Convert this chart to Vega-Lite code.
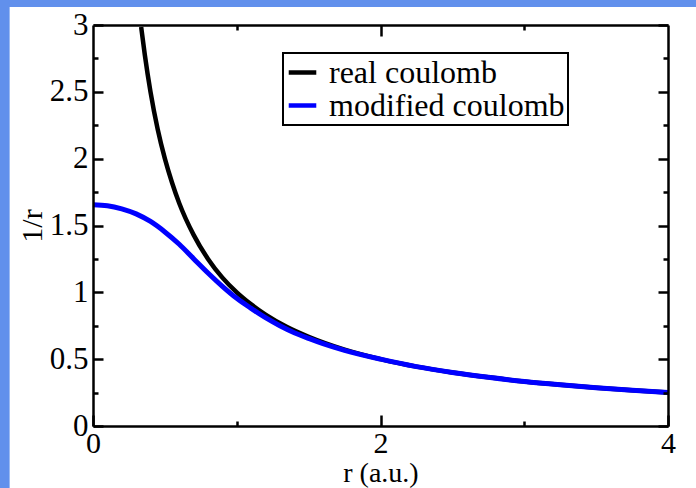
{
  "$schema": "https://vega.github.io/schema/vega-lite/v6.json",
  "width": 575,
  "height": 401,
  "autosize": {"type": "none"},
  "padding": {"left": 93, "top": 25, "right": 28, "bottom": 62},
  "background": "#6190ec",
  "datasets": {
    "panel": [{"x0": -0.58, "x1": 4.5, "y0": -0.6, "y1": 3.135}],
    "real": [
      {"r": 0.335, "v": 2.985, "series": "real coulomb"},
      {"r": 0.36, "v": 2.78, "series": "real coulomb"},
      {"r": 0.4, "v": 2.5, "series": "real coulomb"},
      {"r": 0.45, "v": 2.22, "series": "real coulomb"},
      {"r": 0.5, "v": 2.0, "series": "real coulomb"},
      {"r": 0.55, "v": 1.82, "series": "real coulomb"},
      {"r": 0.6, "v": 1.667, "series": "real coulomb"},
      {"r": 0.7, "v": 1.43, "series": "real coulomb"},
      {"r": 0.8, "v": 1.25, "series": "real coulomb"},
      {"r": 0.9, "v": 1.11, "series": "real coulomb"},
      {"r": 1.0, "v": 1.0, "series": "real coulomb"},
      {"r": 1.1, "v": 0.91, "series": "real coulomb"},
      {"r": 1.2, "v": 0.833, "series": "real coulomb"},
      {"r": 1.35, "v": 0.74, "series": "real coulomb"},
      {"r": 1.5, "v": 0.667, "series": "real coulomb"},
      {"r": 1.75, "v": 0.571, "series": "real coulomb"},
      {"r": 2.0, "v": 0.5, "series": "real coulomb"},
      {"r": 2.25, "v": 0.444, "series": "real coulomb"},
      {"r": 2.5, "v": 0.4, "series": "real coulomb"},
      {"r": 2.75, "v": 0.364, "series": "real coulomb"},
      {"r": 3.0, "v": 0.333, "series": "real coulomb"},
      {"r": 3.25, "v": 0.308, "series": "real coulomb"},
      {"r": 3.5, "v": 0.286, "series": "real coulomb"},
      {"r": 3.75, "v": 0.267, "series": "real coulomb"},
      {"r": 4.0, "v": 0.25, "series": "real coulomb"}
    ],
    "mod": [
      {"r": 0.0, "v": 1.655, "series": "modified coulomb"},
      {"r": 0.1, "v": 1.648, "series": "modified coulomb"},
      {"r": 0.2, "v": 1.625, "series": "modified coulomb"},
      {"r": 0.3, "v": 1.587, "series": "modified coulomb"},
      {"r": 0.4, "v": 1.53, "series": "modified coulomb"},
      {"r": 0.5, "v": 1.452, "series": "modified coulomb"},
      {"r": 0.6, "v": 1.36, "series": "modified coulomb"},
      {"r": 0.7, "v": 1.252, "series": "modified coulomb"},
      {"r": 0.8, "v": 1.145, "series": "modified coulomb"},
      {"r": 0.9, "v": 1.045, "series": "modified coulomb"},
      {"r": 1.0, "v": 0.955, "series": "modified coulomb"},
      {"r": 1.1, "v": 0.88, "series": "modified coulomb"},
      {"r": 1.2, "v": 0.81, "series": "modified coulomb"},
      {"r": 1.3, "v": 0.75, "series": "modified coulomb"},
      {"r": 1.4, "v": 0.698, "series": "modified coulomb"},
      {"r": 1.5, "v": 0.655, "series": "modified coulomb"},
      {"r": 1.6, "v": 0.616, "series": "modified coulomb"},
      {"r": 1.75, "v": 0.566, "series": "modified coulomb"},
      {"r": 2.0, "v": 0.5, "series": "modified coulomb"},
      {"r": 2.25, "v": 0.444, "series": "modified coulomb"},
      {"r": 2.5, "v": 0.4, "series": "modified coulomb"},
      {"r": 2.75, "v": 0.364, "series": "modified coulomb"},
      {"r": 3.0, "v": 0.333, "series": "modified coulomb"},
      {"r": 3.25, "v": 0.308, "series": "modified coulomb"},
      {"r": 3.5, "v": 0.286, "series": "modified coulomb"},
      {"r": 3.75, "v": 0.267, "series": "modified coulomb"},
      {"r": 4.0, "v": 0.25, "series": "modified coulomb"}
    ]
  },
  "layer": [
    {
      "data": {"name": "panel"},
      "mark": {"type": "rect", "fill": "white"},
      "encoding": {
        "x": {"field": "x0", "type": "quantitative", "scale": {"domain": [0, 4], "nice": false, "zero": false}, "axis": null},
        "x2": {"field": "x1"},
        "y": {"field": "y0", "type": "quantitative", "scale": {"domain": [0, 3], "nice": false, "zero": false}, "axis": null},
        "y2": {"field": "y1"}
      }
    },
    {
      "data": {"name": "real"},
      "mark": {"type": "line", "strokeWidth": 4.5, "interpolate": "monotone"},
      "encoding": {
        "x": {"field": "r", "type": "quantitative", "scale": {"domain": [0, 4], "nice": false, "zero": false},
          "axis": {"orient": "bottom", "values": [0, 2, 4], "ticks": false, "domain": true, "labels": true, "labelFlush": false, "labelPadding": 2, "labelFontSize": 30, "format": "~g", "title": "r (a.u.)", "titleFontSize": 28, "titlePadding": 1, "zindex": 1}},
        "y": {"field": "v", "type": "quantitative", "scale": {"domain": [0, 3], "nice": false, "zero": false},
          "axis": {"orient": "left", "values": [0, 0.5, 1, 1.5, 2, 2.5, 3], "ticks": false, "domain": true, "labels": true, "labelFlush": false, "labelPadding": 5, "format": "~g", "title": "1/r", "titlePadding": 2, "zindex": 1}},
        "color": {"field": "series", "type": "nominal",
          "scale": {"domain": ["real coulomb", "modified coulomb"], "range": ["#000000", "#0000ff"]},
          "legend": {"orient": "none", "legendX": 190, "legendY": 28, "title": null}}
      }
    },
    {
      "data": {"name": "mod"},
      "mark": {"type": "line", "strokeWidth": 5, "interpolate": "monotone"},
      "encoding": {
        "x": {"field": "r", "type": "quantitative",
          "axis": {"orient": "bottom", "values": [0, 2, 4], "ticks": true, "tickSize": -11, "domain": false, "labels": false, "title": null, "zindex": 1}},
        "y": {"field": "v", "type": "quantitative",
          "axis": {"orient": "left", "values": [0, 0.5, 1, 1.5, 2, 2.5, 3], "ticks": true, "tickSize": -10, "domain": false, "labels": false, "title": null, "zindex": 1}},
        "color": {"field": "series", "type": "nominal"}
      }
    },
    {
      "data": {"name": "mod"},
      "mark": {"type": "line", "opacity": 0, "color": "white"},
      "encoding": {
        "x": {"field": "r", "type": "quantitative",
          "axis": {"orient": "bottom", "values": [1, 3], "ticks": true, "tickSize": -5, "domain": false, "labels": false, "title": null, "zindex": 1}},
        "y": {"field": "v", "type": "quantitative",
          "axis": {"orient": "left", "values": [0.25, 0.75, 1.25, 1.75, 2.25, 2.75], "ticks": true, "tickSize": -5, "domain": false, "labels": false, "title": null, "zindex": 1}}
      }
    },
    {
      "data": {"name": "mod"},
      "mark": {"type": "line", "opacity": 0, "color": "white"},
      "encoding": {
        "x": {"field": "r", "type": "quantitative",
          "axis": {"orient": "top", "values": [2], "ticks": true, "tickSize": -11, "domain": true, "labels": false, "title": null, "zindex": 1}},
        "y": {"field": "v", "type": "quantitative",
          "axis": {"orient": "right", "values": [0, 0.5, 1, 1.5, 2, 2.5, 3], "ticks": true, "tickSize": -10, "domain": true, "labels": false, "title": null, "zindex": 1}}
      }
    },
    {
      "data": {"name": "mod"},
      "mark": {"type": "line", "opacity": 0, "color": "white"},
      "encoding": {
        "x": {"field": "r", "type": "quantitative",
          "axis": {"orient": "top", "values": [1, 3], "ticks": true, "tickSize": -5, "domain": false, "labels": false, "title": null, "zindex": 1}},
        "y": {"field": "v", "type": "quantitative",
          "axis": {"orient": "right", "values": [0.25, 0.75, 1.25, 1.75, 2.25, 2.75], "ticks": true, "tickSize": -5, "domain": false, "labels": false, "title": null, "zindex": 1}}
      }
    }
  ],
  "resolve": {"axis": {"x": "independent", "y": "independent"}},
  "config": {
    "view": {"stroke": null},
    "axis": {
      "grid": false,
      "labelFont": "Liberation Serif",
      "labelFontSize": 31,
      "labelColor": "#000000",
      "titleFont": "Liberation Serif",
      "titleFontSize": 30,
      "titleFontWeight": "normal",
      "titleColor": "#000000",
      "domainColor": "#000000",
      "domainWidth": 2.5,
      "tickColor": "#000000",
      "tickWidth": 2.5,
      "labelOverlap": false
    },
    "legend": {
      "symbolType": "stroke",
      "symbolStrokeWidth": 4.5,
      "symbolSize": 760,
      "labelFont": "Liberation Serif",
      "labelFontSize": 32,
      "labelColor": "#000000",
      "labelLimit": 500,
      "labelOffset": 10,
      "strokeColor": "#000000",
      "strokeWidth": 2,
      "fillColor": "#ffffff",
      "padding": 3,
      "rowPadding": -10
    }
  }
}
